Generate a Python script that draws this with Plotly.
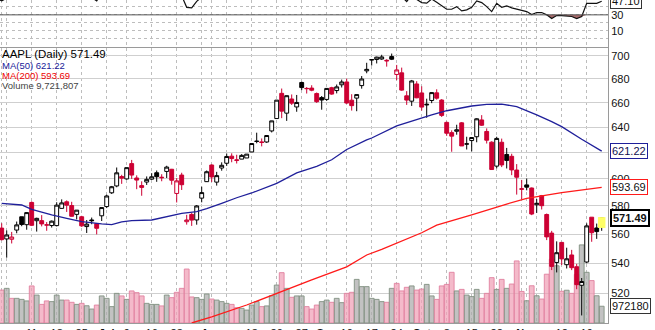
import plotly.graph_objects as go
import math

# ---------------- data (dividend-adjusted prices as drawn on the chart) ----------------
dates = ["2012-05-31","2012-06-01","2012-06-04","2012-06-05","2012-06-06","2012-06-07","2012-06-08",
"2012-06-11","2012-06-12","2012-06-13","2012-06-14","2012-06-15","2012-06-18","2012-06-19","2012-06-20",
"2012-06-21","2012-06-22","2012-06-25","2012-06-26","2012-06-27","2012-06-28","2012-06-29","2012-07-02",
"2012-07-03","2012-07-05","2012-07-06","2012-07-09","2012-07-10","2012-07-11","2012-07-12","2012-07-13",
"2012-07-16","2012-07-17","2012-07-18","2012-07-19","2012-07-20","2012-07-23","2012-07-24","2012-07-25",
"2012-07-26","2012-07-27","2012-07-30","2012-07-31","2012-08-01","2012-08-02","2012-08-03","2012-08-06",
"2012-08-07","2012-08-08","2012-08-09","2012-08-10","2012-08-13","2012-08-14","2012-08-15","2012-08-16",
"2012-08-17","2012-08-20","2012-08-21","2012-08-22","2012-08-23","2012-08-24","2012-08-27","2012-08-28",
"2012-08-29","2012-08-30","2012-08-31","2012-09-04","2012-09-05","2012-09-06","2012-09-07","2012-09-10",
"2012-09-11","2012-09-12","2012-09-13","2012-09-14","2012-09-17","2012-09-18","2012-09-19","2012-09-20",
"2012-09-21","2012-09-24","2012-09-25","2012-09-26","2012-09-27","2012-09-28","2012-10-01","2012-10-02",
"2012-10-03","2012-10-04","2012-10-05","2012-10-08","2012-10-09","2012-10-10","2012-10-11","2012-10-12",
"2012-10-15","2012-10-16","2012-10-17","2012-10-18","2012-10-19","2012-10-22","2012-10-23","2012-10-24",
"2012-10-25","2012-10-26","2012-10-31","2012-11-01","2012-11-02","2012-11-05","2012-11-06","2012-11-07",
"2012-11-08","2012-11-09","2012-11-12","2012-11-13","2012-11-14","2012-11-15","2012-11-16","2012-11-19",
"2012-11-20","2012-11-21","2012-11-23"]

opens = [575.63,564.15,556.56,556.33,562.77,572.21,566.57,582.55,569.40,569.46,566.21,565.97,565.93,578.26,583.03,
580.29,573.94,572.22,565.24,569.94,567.30,572.91,579.58,589.64,594.72,601.75,599.97,611.57,600.67,594.96,597.63,
599.79,604.63,601.25,605.62,607.26,589.17,602.86,568.70,573.90,569.94,585.72,597.92,610.49,597.57,608.20,611.86,
617.29,613.94,615.04,615.90,620.56,629.00,628.43,628.34,637.09,647.05,667.77,651.44,663.08,656.51,676.90,671.91,
672.18,667.59,664.22,662.73,672.50,670.11,674.97,677.36,662.09,663.82,674.29,686.82,696.17,696.70,697.08,695.98,
699.22,683.74,685.13,665.70,661.27,675.66,668.11,658.80,661.84,668.20,662.18,643.94,635.75,636.83,643.56,626.70,
629.47,632.48,645.92,636.68,628.18,609.64,628.13,618.61,617.18,606.66,592.18,595.50,593.18,580.87,587.55,573.84,
560.63,540.42,554.15,538.91,545.50,537.53,525.20,540.71,571.91,564.25,567.17]

highs = [576.38,567.61,562.50,561.48,568.80,572.24,575.47,583.32,571.54,573.39,568.45,569.56,582.71,584.81,584.06,
583.04,577.07,572.91,569.89,571.66,567.80,578.86,588.25,594.72,608.60,603.08,608.50,614.41,602.65,598.16,601.84,
604.31,606.32,603.50,609.93,607.54,600.57,604.63,573.61,574.89,580.67,594.16,606.32,610.97,605.31,612.54,619.37,
619.50,618.39,618.90,618.93,627.14,635.71,631.12,633.86,645.24,662.13,671.81,665.96,666.85,666.44,677.77,673.03,
674.59,668.50,665.56,672.07,673.27,675.21,679.38,680.18,667.05,666.85,682.38,693.81,696.62,699.14,700.79,696.88,
701.86,691.96,689.63,669.63,679.07,678.01,673.67,663.32,668.81,671.18,662.97,644.62,637.58,642.05,644.26,632.49,
632.24,647.34,649.82,639.14,628.90,632.49,631.02,623.70,619.17,611.21,599.22,600.26,593.54,585.10,588.05,574.54,
562.23,554.88,554.50,550.48,549.00,539.50,530.00,567.50,571.95,567.37,572.00]

lows = [566.43,555.59,543.67,553.42,560.52,565.48,563.00,565.61,561.71,565.36,562.27,564.54,565.35,577.97,575.69,
572.36,570.35,564.98,560.72,566.89,559.73,569.20,578.46,588.77,593.73,596.28,599.38,599.98,592.31,587.46,595.46,
599.18,597.79,598.22,600.67,595.65,582.53,591.74,566.61,565.73,566.56,582.65,597.69,597.69,594.97,606.18,609.84,
612.60,611.67,614.99,615.89,620.42,627.34,624.90,627.63,635.91,646.94,647.37,645.16,658.14,652.57,670.48,667.62,
669.54,659.84,654.26,661.48,666.56,667.75,672.70,659.09,653.51,653.02,671.70,684.76,691.45,693.25,696.39,690.47,
696.18,678.90,669.94,658.19,657.35,663.72,653.51,647.69,659.62,662.52,648.32,633.22,620.71,634.10,625.24,622.46,
621.01,628.13,641.07,627.14,606.85,607.98,608.92,607.86,602.80,588.31,585.03,591.47,573.38,574.97,577.45,555.75,
535.29,533.72,538.65,536.36,535.25,522.62,505.75,539.88,554.58,556.60,562.26]

closes = [572.64,556.05,559.32,557.88,566.43,566.69,575.21,566.14,571.09,567.12,566.50,569.08,580.62,582.24,580.58,
572.58,576.98,565.75,566.98,569.44,564.04,578.86,587.30,594.13,604.57,600.55,608.49,602.86,599.11,593.63,599.64,
601.57,601.60,600.92,608.91,598.98,598.51,595.63,569.91,569.82,580.01,589.79,605.38,601.47,602.44,610.28,617.07,
615.44,614.40,617.91,618.87,627.14,628.82,627.96,633.45,645.16,662.13,653.08,665.83,659.62,660.20,672.61,671.73,
670.41,660.85,662.22,671.90,667.18,673.20,677.35,659.73,657.59,666.74,679.87,688.14,696.60,698.72,698.91,695.52,
696.91,687.65,670.48,662.16,678.22,664.07,656.39,658.30,668.40,663.77,649.62,635.27,632.96,638.00,625.24,626.85,
631.87,646.84,641.68,629.76,607.07,631.15,610.57,614.03,606.77,601.25,592.61,593.83,574.18,581.96,580.20,558.00,
537.75,547.06,542.83,542.90,536.88,525.62,527.68,565.73,560.91,561.70,571.49]

volumes = [17600000,19100000,20100000,14300000,14300000,13700000,12800000,21500000,16200000,10800000,12800000,12400000,
16200000,13300000,13300000,12000000,10800000,11400000,10000000,8100000,10400000,15700000,14300000,9500000,17200000,
15700000,13700000,18600000,17600000,15700000,11400000,10800000,10800000,9900000,16200000,14700000,17800000,20100000,
31300000,15100000,14700000,13700000,16800000,13900000,13300000,12400000,11400000,10800000,8900000,8500000,7500000,
10400000,12400000,9500000,9900000,15800000,22000000,29200000,20100000,14900000,15700000,15700000,9500000,8100000,
10400000,12400000,13300000,12000000,14300000,11800000,17200000,17800000,25300000,21100000,21100000,14300000,13700000,
12400000,12000000,20100000,23000000,18600000,20700000,21500000,19100000,19700000,22400000,15700000,13700000,21500000,
22400000,29400000,18600000,19500000,16200000,15300000,19500000,14300000,17200000,26300000,19500000,25300000,20100000,
22600000,36000000,18300000,12900000,21600000,15800000,13900000,28300000,37000000,33200000,18400000,19000000,17200000,
28200000,45300000,29400000,24600000,15800000,9721807]

ma50_dates = ["2012-06-01","2012-06-07","2012-06-11","2012-06-15","2012-06-20","2012-06-25","2012-06-29","2012-07-03",
"2012-07-06","2012-07-10","2012-07-16","2012-07-19","2012-07-24","2012-07-27","2012-07-31","2012-08-03","2012-08-08",
"2012-08-13","2012-08-20","2012-08-24","2012-08-30","2012-09-05","2012-09-10","2012-09-14","2012-09-17","2012-09-24",
"2012-09-28","2012-10-03","2012-10-08","2012-10-15","2012-10-18","2012-10-23","2012-10-26","2012-11-01","2012-11-05",
"2012-11-08","2012-11-12","2012-11-16","2012-11-20","2012-11-23"]
ma50_vals = [581.9,580.7,577.5,573.5,571.1,568.7,567.1,566.6,568.5,569.5,569.9,572.3,574.7,575.9,578.0,581.9,586.0,
589.5,596.7,604.5,609.5,614.5,622.5,630.0,631.5,641.1,646.5,650.0,653.4,657.3,658.7,658.9,656.7,653.5,650.0,
644.5,640.5,630.5,626.0,621.22]

ma200_dates = ["2012-07-26","2012-08-01","2012-08-10","2012-08-20","2012-08-29","2012-09-10","2012-09-14","2012-09-19",
"2012-09-25","2012-10-01","2012-10-04","2012-10-15","2012-10-24","2012-11-01","2012-11-12","2012-11-23"]
ma200_vals = [501.0,504.9,512.4,520.0,528.7,537.5,545.5,549.4,555.3,560.9,566.3,573.5,581.4,585.5,589.7,593.69]

rsi_vals = [50,47.8,51,51,55,55,59,53,56,54,54,56,62,63,62,56,58,52,53,52,47.5,58,62,65,69,66,69,65,62,58,61,62,62,61,
65,58,56,54,39.5,38.8,47,52,58,56,57,61,64,63,62,63,63,67,67,66,69,74,80,70,76,72,72,76,75,74,67,68,71,68,70,72,
60,59,63,69,72,75,75,75,72,73,62,53,46.8,55,49.5,45.5,44.8,50,45.8,41,37.1,37.1,40.4,35,36.3,39.6,47.5,45.4,40.4,
34.1,44.6,39.6,41.3,38.8,37.5,36.3,34.1,30.4,32.9,32.9,30,25.4,29.1,29.1,28.8,27.9,25.4,27.9,44.6,44.6,44.6,47.1]

tick_dates = ["2012-06-01","2012-06-04","2012-06-11","2012-06-18","2012-06-25","2012-07-02","2012-07-09","2012-07-16",
"2012-07-23","2012-07-30","2012-08-01","2012-08-06","2012-08-13","2012-08-20","2012-08-27","2012-09-04","2012-09-10",
"2012-09-17","2012-09-24","2012-10-01","2012-10-08","2012-10-15","2012-10-22","2012-10-31","2012-11-01","2012-11-05",
"2012-11-12","2012-11-19"]
tick_text = ["<b>Jun</b>","","11","18","25","<b>Jul</b>","9","16","23","","<b>Aug</b>","","13","20","27","<b>Sep</b>",
"10","17","24","<b>Oct</b>","8","15","22","","<b>Nov</b>","","12","19"]

price_ticks = [520,540,560,580,600,620,640,660,680,700]
price_tick_text = ["520","540","560","580","600","","640","660","680","700"]
rsi_ticks = [0,10,20,30,40]
rsi_tick_text = ["","10","","30",""]

# ---------------- figure ----------------
pos = {d: i for i, d in enumerate(dates)}
xs = list(range(len(dates)))
ref = pos["2012-06-11"]
xr = [ref - 6.34, ref + 115.26]

FONT = "Liberation Sans, Arial, sans-serif"
RED = "#cc0033"

groups = {"hb": [], "hr": [], "fb": [], "fr": []}
for i in xs:
    prev = closes[i - 1] if i > 0 else opens[i]
    up_day = closes[i] >= prev
    hollow = closes[i] >= opens[i]
    key = ("h" if hollow else "f") + ("b" if up_day else "r")
    groups[key].append(i)

style = {"hb": ("black", "white"), "hr": (RED, "white"), "fb": ("black", "black"), "fr": (RED, RED)}

fig = go.Figure()

# volume bars (base axis)
vcol, vline = [], []
for i in xs:
    prev = closes[i - 1] if i > 0 else opens[i]
    if closes[i] >= prev:
        vcol.append("rgba(170,170,170,0.72)"); vline.append("rgba(130,145,130,0.9)")
    else:
        vcol.append("rgba(240,160,182,0.72)"); vline.append("rgba(225,130,160,0.9)")
fig.add_trace(go.Bar(x=xs, y=volumes, marker=dict(color=vcol, line=dict(color=vline, width=1)),
                     xaxis="x", yaxis="y2", hoverinfo="skip", showlegend=False))

# yellow highlight on last bar
li = xs[-1]
fig.add_trace(go.Scatter(x=[li - 0.75, li + 0.75, li + 0.75, li - 0.75], y=[lows[-1] + 2, lows[-1] + 2, highs[-1], highs[-1]],
                         fill="toself", fillcolor="#ffff66", line=dict(width=0), mode="lines",
                         xaxis="x", yaxis="y3", hoverinfo="skip", showlegend=False))

# moving averages
fig.add_trace(go.Scatter(x=[pos[d] for d in ma200_dates], y=ma200_vals, mode="lines", line=dict(color="#ff1a1a", width=1.3),
                         xaxis="x", yaxis="y3", hoverinfo="skip", showlegend=False))
fig.add_trace(go.Scatter(x=[pos[d] for d in ma50_dates], y=ma50_vals, mode="lines", line=dict(color="#1f1f9a", width=1.3),
                         xaxis="x", yaxis="y3", hoverinfo="skip", showlegend=False))

# candles
for key, idx in groups.items():
    if not idx:
        continue
    lc, fc = style[key]
    s = dict(line=dict(color=lc, width=1), fillcolor=fc)
    fig.add_trace(go.Candlestick(x=idx, open=[opens[i] for i in idx], high=[highs[i] for i in idx],
                                 low=[lows[i] for i in idx], close=[closes[i] for i in idx],
                                 increasing=s, decreasing=s, whiskerwidth=0,
                                 xaxis="x", yaxis="y3", hoverinfo="skip", showlegend=False))

# RSI panel
fig.add_trace(go.Scatter(x=xs, y=[30] * len(xs), mode="lines", line=dict(color="rgba(0,0,0,0)", width=0),
                         xaxis="x2", yaxis="y", hoverinfo="skip", showlegend=False))
fig.add_trace(go.Scatter(x=xs, y=[min(v, 30) for v in rsi_vals], mode="lines", line=dict(color="rgba(0,0,0,0)", width=0),
                         fill="tonexty", fillcolor="#a86a6a", xaxis="x2", yaxis="y", hoverinfo="skip", showlegend=False))
fig.add_trace(go.Scatter(x=xs, y=rsi_vals, mode="lines", line=dict(color="#111111", width=1.2),
                         xaxis="x2", yaxis="y", hoverinfo="skip", showlegend=False))

tickvals = [pos[d] for d in tick_dates]
grid = "#bdbdbd"

fig.update_layout(
    width=655, height=330, margin=dict(l=0, r=47, t=0, b=7),
    paper_bgcolor="white", plot_bgcolor="white",
    font=dict(family=FONT, size=11, color="#222"),
    boxgap=0.12, boxgroupgap=0.12, bargap=0.04,
    xaxis=dict(domain=[0, 1], range=xr, anchor="y2", tickvals=tickvals, ticktext=tick_text,
               showgrid=True, gridcolor=grid, griddash="dot", gridwidth=1, ticks="", zeroline=False,
               showline=True, linecolor="#9a9a9a", mirror=True, automargin=False,
               rangeslider=dict(visible=False), tickfont=dict(size=11, color="#111")),
    xaxis2=dict(domain=[0, 1], range=xr, anchor="y", matches="x", tickvals=tickvals, showticklabels=False,
                showgrid=True, gridcolor=grid, griddash="dot", ticks="", zeroline=False,
                showline=True, linecolor="#9a9a9a", mirror=True),
    yaxis=dict(domain=[0.8545, 1], range=[-10.6, 48.75], anchor="x2", side="right", tickvals=rsi_ticks,
               ticktext=rsi_tick_text, showgrid=True, gridcolor=grid, griddash="dot", ticks="", zeroline=False,
               showline=True, linecolor="#9a9a9a", mirror=True, automargin=False,
               tickfont=dict(size=11, color="#111")),
    yaxis2=dict(domain=[0, 0.8514], range=[0, 159.5e6], anchor="x", side="right", showgrid=False,
                showticklabels=False, ticks="", zeroline=False, showline=False),
    yaxis3=dict(overlaying="y2", type="log", range=[math.log10(500.99), math.log10(706.77)], anchor="x",
                side="right", tickvals=price_ticks, ticktext=price_tick_text,
                showgrid=True, gridcolor="#cfcfcf", ticks="", zeroline=False, automargin=False,
                showline=True, linecolor="#9a9a9a", mirror=True, tickfont=dict(size=11, color="#111")),
)

# RSI 30 line
fig.add_shape(type="line", xref="x2 domain", yref="y", x0=0, x1=1, y0=30, y1=30, line=dict(color="#555", width=1))

# right-side value tags
def tag(text, yref, yv, border, bw=1, bold=False, color="#111"):
    fig.add_annotation(x=1, xref="paper", xanchor="left", xshift=2, y=yv, yref=yref, yanchor="middle",
                       text=("<b>%s</b>" % text) if bold else text, showarrow=False,
                       font=dict(family=FONT, size=11, color=color), bgcolor="white",
                       bordercolor=border, borderwidth=bw, borderpad=1)

tag("%.2f" % rsi_vals[-1], "y", rsi_vals[-1], "#333")
tag("%.2f" % ma50_vals[-1], "y3", math.log10(ma50_vals[-1]), "#1f1f9a", color="#101050")
tag("%.2f" % ma200_vals[-1], "y3", math.log10(ma200_vals[-1]), "#ff1a1a")
tag("%.2f" % closes[-1], "y3", math.log10(closes[-1]), "#000", bw=2, bold=True)
tag(str(volumes[-1] // 10), "y2", volumes[-1], "#333")

# legend texts
legend = [("AAPL (Daily) %.2f" % closes[-1], "#000", 11.5, 54.5),
          ("MA(50) %.2f" % ma50_vals[-1], "#1a1a99", 9.5, 65.5),
          ("MA(200) %.2f" % ma200_vals[-1], "#ee0000", 9.5, 75.5),
          ("Volume {:,}".format(volumes[-1]), "#444", 9.5, 85.5)]
for txt, col, sz, ypx in legend:
    fig.add_annotation(x=0, xref="paper", xanchor="left", xshift=1, y=1 - ypx / 323.0, yref="paper",
                       yanchor="middle", text=txt, showarrow=False, font=dict(family=FONT, size=sz, color=col),
                       borderpad=0)

fig.write_html("out.html")
